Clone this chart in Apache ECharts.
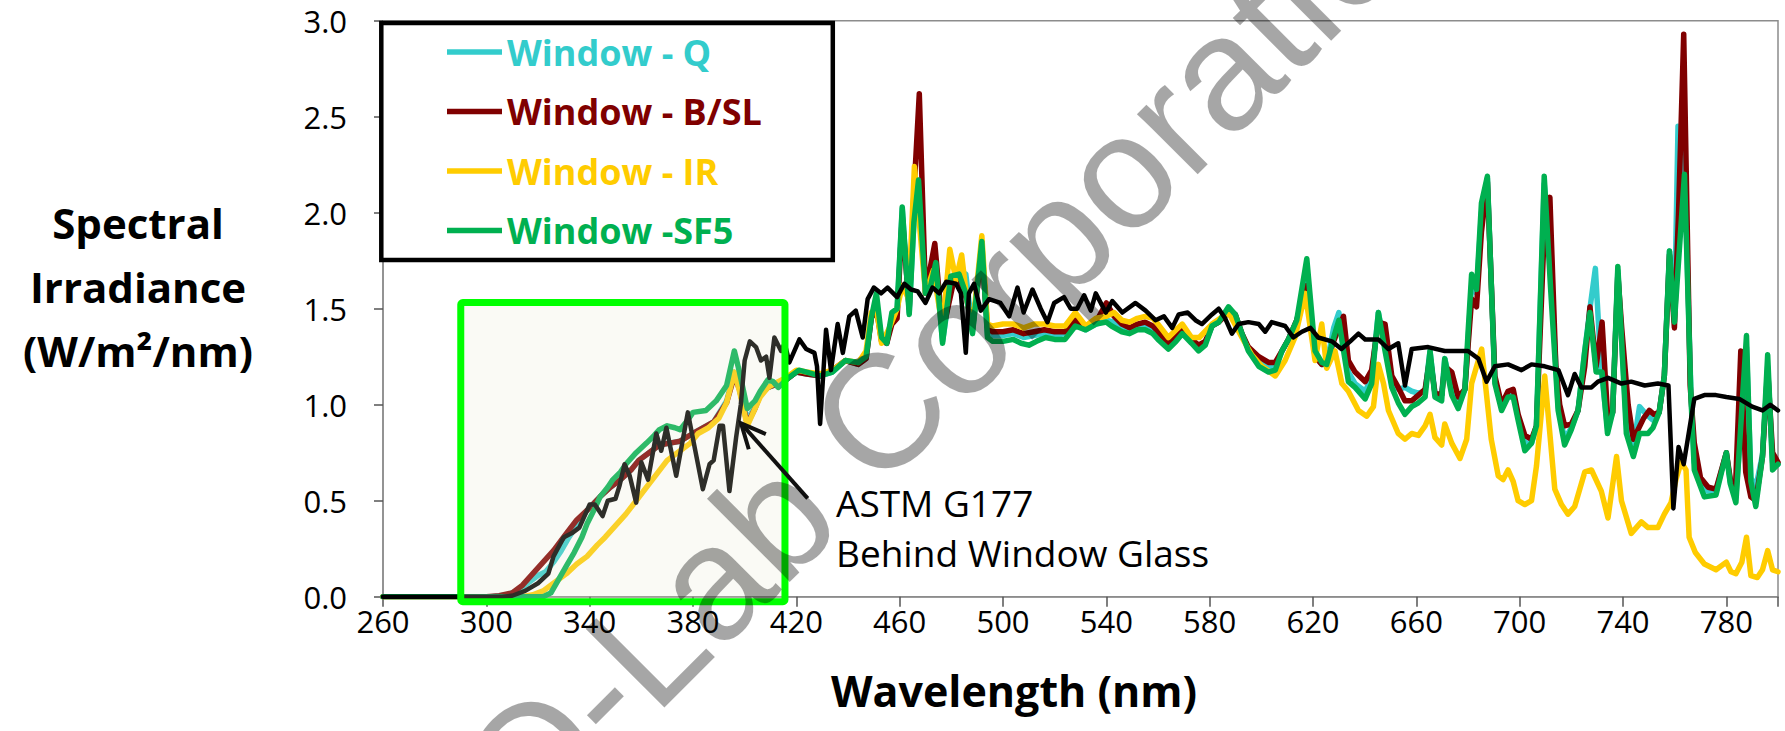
<!DOCTYPE html>
<html><head><meta charset="utf-8">
<script src="https://cdn.jsdelivr.net/npm/echarts/dist/echarts.min.js"></script>
<style>html,body{margin:0;padding:0;background:#fff;}#c{width:1785px;height:731px;}</style>
</head><body><div id="c"></div>
<script>
// ---- data: [wavelength nm, spectral irradiance W/m2/nm] ----
const xTicks = [260, 800, 40];
const yTicks = [0, 3, 0.5];
const seriesNames = ['Window - Q', 'Window - B/SL', 'Window - IR', 'Window -SF5', 'ASTM G177 Behind Window Glass'];
const seriesColors = ['#33CCCC', '#800000', '#FFCC00', '#00B050', '#000000'];

const Q = [[260,0],[302,0],[308,0.01],[312,0.03],[316,0.07],[320,0.11],[323,0.13],[326,0.18],[329,0.24],[332,0.31],[336,0.39],[339,0.45],[344,0.52],[348,0.57],[352,0.61],[356,0.66],[359,0.71],[363,0.75],[367,0.79],[371,0.80],[375,0.81],[380,0.85],[384,0.88],[388,0.91],[393,1.02],[396,1.17],[398,1.09],[401,0.92],[404,0.99],[406,1.05],[409,1.09],[413,1.11],[416,1.13],[420,1.17],[424,1.16],[429,1.15],[434,1.17],[439,1.23],[444,1.21],[447,1.24],[449,1.45],[451,1.52],[453,1.34],[455,1.32],[457,1.45],[459,1.48],[461,2.02],[463.7,1.48],[465.5,1.95],[467.3,2.12],[470,1.58],[472,1.62],[474,1.72],[476.6,1.33],[479.8,1.62],[483,1.66],[485.6,1.68],[488.2,1.38],[491.8,1.84],[494,1.36],[496,1.36],[500,1.36],[504,1.37],[508,1.35],[512,1.36],[516,1.37],[520,1.36],[524,1.37],[528,1.42],[532,1.39],[536,1.42],[540,1.44],[543,1.43],[546,1.40],[549,1.38],[552,1.40],[555,1.41],[558,1.39],[560,1.36],[564,1.31],[567,1.35],[569.4,1.39],[573,1.33],[575.7,1.30],[578.3,1.32],[580.9,1.41],[583.5,1.43],[587.3,1.50],[589.9,1.47],[592.5,1.37],[595,1.29],[599,1.23],[602.8,1.19],[605.4,1.20],[608,1.28],[610.5,1.34],[613.7,1.44],[617.6,1.64],[620.8,1.26],[623.4,1.21],[625.3,1.21],[628,1.40],[630,1.48],[633.7,1.17],[636.3,1.11],[640.2,1.07],[642.7,1.14],[645.3,1.48],[647.9,1.30],[650.5,1.12],[653,1.08],[655.6,1.09],[658.2,1.07],[660.8,1.06],[663.4,1.07],[665.3,1.28],[667.2,1.06],[669.8,1.05],[671,1.24],[673.7,1.08],[676.2,1.00],[678.8,1.08],[680,1.33],[681.4,1.62],[683.3,1.58],[685.2,2.00],[687.5,2.18],[690.4,1.13],[693,0.99],[695.5,1.05],[697.5,1.06],[699.4,0.94],[702,0.80],[704.6,0.80],[706.5,0.89],[709.5,2.15],[712,1.70],[714.9,0.99],[717.4,0.82],[720,0.88],[722.6,0.97],[725.2,1.28],[727.2,1.50],[729.3,1.71],[731.5,1.19],[734,0.88],[736,0.96],[738,1.70],[741.3,0.90],[744,0.78],[746.4,0.99],[749,0.95],[751.6,0.92],[754,0.96],[756,1.15],[758,1.80],[759.9,1.43],[761.3,2.45],[763.8,2.25],[766.3,1.06],[767.6,0.70],[771.5,0.55],[776,0.55],[780,0.75],[781.5,0.60],[783.7,0.52],[786,0.95],[787.8,1.30],[789.5,0.62],[791.4,0.57],[794,0.74],[796,1.20],[797.9,0.70],[800,0.69]];

const BSL = [[260,0],[300,0],[305,0.005],[310,0.02],[314,0.06],[318,0.12],[322,0.18],[326,0.24],[331,0.33],[335,0.40],[339,0.45],[344,0.52],[348,0.57],[352,0.61],[356,0.66],[359,0.71],[363,0.75],[367,0.79],[371,0.80],[375,0.81],[380,0.85],[384,0.88],[388,0.91],[393,1.01],[396,1.15],[398,1.08],[401,0.90],[404,0.98],[406,1.05],[409,1.09],[413,1.11],[416,1.13],[420,1.17],[424,1.16],[429,1.15],[434,1.18],[439,1.23],[444,1.21],[447,1.24],[449,1.45],[451,1.50],[453,1.33],[455,1.32],[457,1.42],[459,1.45],[461,1.98],[463.7,1.50],[465.5,2.10],[467.6,2.62],[470,1.58],[473.6,1.84],[476.6,1.38],[479.4,1.55],[481.8,1.70],[484,1.62],[486,1.55],[488.2,1.40],[491.8,1.80],[494,1.40],[496,1.38],[500,1.38],[504,1.39],[508,1.37],[512,1.38],[516,1.39],[520,1.38],[524,1.38],[528,1.44],[532,1.40],[536,1.43],[540,1.53],[543,1.46],[546,1.42],[549,1.40],[552,1.42],[555,1.43],[558,1.41],[560,1.38],[564,1.32],[567,1.36],[569.4,1.40],[573,1.34],[575.7,1.31],[578.3,1.33],[580.9,1.41],[583.5,1.43],[587.3,1.48],[589.9,1.47],[592.5,1.37],[595,1.30],[599,1.25],[602.8,1.22],[605.4,1.22],[608,1.28],[610.5,1.34],[613.7,1.44],[617.6,1.62],[620.8,1.25],[623.4,1.21],[625.3,1.22],[628,1.33],[631.8,1.46],[633.7,1.23],[636.3,1.17],[640.2,1.12],[642.7,1.18],[645.3,1.43],[647.9,1.42],[650.5,1.15],[653,1.09],[655.6,1.02],[658.2,1.02],[660.8,1.05],[663.4,1.08],[665.3,1.25],[667.2,1.06],[669.8,1.05],[671,1.20],[673.7,1.17],[676.2,1.04],[678.8,1.08],[680,1.30],[681.4,1.55],[683.3,1.51],[685.2,1.90],[687.5,2.16],[690.4,1.15],[693,1.00],[695.5,1.07],[697.5,1.08],[699.4,0.95],[702,0.84],[704.6,0.82],[706.5,0.89],[709.5,1.90],[711.7,2.08],[714,1.20],[715.5,1.00],[717.4,0.89],[720,0.90],[722.6,0.97],[725.2,1.20],[727.2,1.51],[729.6,1.20],[731.9,1.43],[734,0.95],[736,0.96],[738,1.68],[739.5,1.40],[742,1.00],[744,0.82],[748,0.93],[750.2,0.97],[752,0.95],[754,0.96],[756,1.15],[758,1.78],[759.9,1.40],[761.5,2.00],[763.5,2.93],[766,1.10],[767.6,0.80],[770,0.62],[773,0.57],[776,0.56],[780,0.75],[781.8,0.59],[783.5,0.55],[785.6,1.28],[787.5,0.65],[789.5,0.52],[791.4,0.50],[794,0.73],[796,1.18],[797.9,0.75],[800,0.70]];

const IR = [[260,0],[314,0],[318,0.01],[322,0.03],[326,0.07],[331,0.12],[335,0.17],[339,0.21],[343,0.27],[346,0.31],[350,0.37],[354,0.43],[358,0.50],[362,0.57],[366,0.64],[370,0.71],[375,0.76],[379,0.80],[382,0.85],[386,0.88],[390,0.93],[393,1.01],[396,1.17],[398,1.07],[401,0.89],[404,0.98],[406,1.04],[409,1.09],[413,1.12],[416,1.14],[420,1.18],[424,1.17],[429,1.16],[434,1.18],[439,1.23],[444,1.22],[447,1.28],[449,1.48],[451,1.50],[453,1.32],[456,1.40],[459,1.50],[461,1.62],[463.5,1.55],[465.7,2.24],[467.6,1.95],[470,1.58],[473,1.70],[476.6,1.40],[479.4,1.81],[481.8,1.65],[484,1.78],[486,1.55],[488.2,1.40],[491.8,1.88],[494,1.42],[496,1.41],[500,1.42],[504,1.42],[508,1.40],[512,1.42],[516,1.42],[520,1.41],[524,1.41],[528,1.48],[532,1.41],[536,1.45],[540,1.46],[543,1.48],[546,1.44],[549,1.43],[552,1.45],[555,1.46],[558,1.45],[560,1.42],[564,1.35],[567,1.39],[569.4,1.42],[573,1.35],[576,1.35],[580.9,1.42],[587.3,1.48],[592.5,1.35],[596.3,1.26],[600.2,1.20],[605.4,1.15],[609.2,1.23],[613,1.35],[617,1.58],[620.8,1.23],[623.4,1.42],[625.3,1.19],[628.5,1.28],[631.2,1.11],[633.7,1.07],[637.6,0.97],[640.8,0.94],[643.4,0.99],[645.3,1.21],[647.3,1.11],[649.2,0.97],[653,0.85],[655.6,0.82],[658.2,0.85],[660.8,0.84],[663.4,0.89],[665.3,0.95],[667.2,0.83],[669.8,0.79],[671,0.90],[673.7,0.80],[676.9,0.72],[679.5,0.82],[681.4,1.11],[685.3,1.29],[689,0.82],[691.7,0.63],[693.6,0.61],[695.5,0.66],[697.5,0.60],[699.4,0.50],[702,0.48],[704.6,0.50],[706.5,0.68],[709.7,1.15],[713.6,0.56],[716.2,0.48],[718.7,0.43],[721.3,0.47],[725.2,0.65],[727.8,0.66],[731.6,0.55],[734.2,0.41],[737.5,0.73],[739.4,0.50],[743.2,0.33],[747.1,0.39],[749.7,0.36],[753.5,0.36],[756,0.43],[758.6,0.49],[760.5,0.61],[762.5,0.70],[764.4,0.66],[765.6,0.31],[768,0.23],[771.5,0.17],[776,0.14],[780,0.18],[781.8,0.13],[783.7,0.12],[786,0.18],[787.8,0.31],[789.5,0.11],[792,0.10],[794,0.14],[796,0.24],[797.9,0.14],[800,0.13]];

const SF5 = [[260,0],[322,0],[325,0.02],[328,0.09],[331,0.16],[334,0.23],[337,0.31],[339,0.38],[342,0.46],[344,0.52],[347,0.57],[349,0.61],[352,0.65],[354,0.69],[358,0.75],[362,0.80],[365,0.84],[367,0.87],[370,0.89],[373,0.88],[375,0.87],[378,0.92],[380,0.96],[385,0.97],[389,1.02],[393,1.10],[396,1.28],[398,1.17],[401,0.98],[404,1.02],[406,1.07],[409,1.13],[411,1.12],[413,1.09],[417,1.14],[421,1.18],[424,1.17],[429,1.15],[434,1.17],[439,1.23],[444,1.22],[447,1.25],[449,1.45],[451,1.58],[453,1.35],[455,1.32],[457,1.48],[459,1.50],[461,2.03],[463.7,1.47],[465.5,1.95],[467.3,2.17],[470,1.58],[472,1.62],[474,1.74],[476.6,1.32],[479.8,1.67],[483,1.68],[485.6,1.58],[488.2,1.37],[491.8,1.85],[494,1.35],[496,1.33],[500,1.33],[504,1.34],[507,1.32],[510,1.31],[513,1.33],[516.5,1.35],[520,1.34],[524,1.34],[528,1.41],[532,1.39],[536,1.42],[540,1.43],[542,1.41],[546,1.38],[549,1.37],[552,1.39],[555,1.39],[558,1.37],[560,1.34],[564,1.29],[567,1.33],[569.4,1.37],[573,1.32],[575.7,1.28],[578.3,1.31],[580.9,1.41],[583.5,1.43],[587.3,1.51],[589.9,1.47],[592.5,1.37],[595,1.28],[599,1.20],[602.8,1.17],[605.4,1.18],[608,1.28],[610.5,1.34],[613.7,1.44],[617.6,1.76],[620.8,1.28],[623.4,1.22],[625.3,1.21],[628,1.35],[630,1.44],[633.7,1.12],[636.3,1.09],[640.2,1.03],[642.7,1.11],[645.3,1.48],[647.9,1.28],[650.5,1.09],[653,1.01],[655.6,0.95],[658.2,0.99],[660.8,1.01],[663.4,1.04],[665.3,1.28],[667.2,1.04],[669.8,1.02],[671,1.24],[673.7,1.05],[676.2,0.98],[678.8,1.08],[680,1.37],[681.4,1.68],[683.3,1.60],[685.2,2.05],[687.5,2.19],[690.4,1.11],[693,0.97],[695.5,1.04],[697.5,1.04],[699.4,0.92],[702,0.76],[704.6,0.80],[706.5,0.89],[709.5,2.19],[712,1.60],[714.9,0.97],[717.4,0.79],[720,0.87],[722.6,0.97],[725.2,1.28],[727.2,1.48],[729.6,1.17],[731.9,1.17],[734,0.85],[736,0.96],[738,1.72],[741.3,0.85],[744,0.73],[746.4,0.85],[749.7,0.85],[751.6,0.88],[754,0.96],[756,1.15],[758,1.80],[759.9,1.43],[763.8,2.20],[766.3,1.04],[767.6,0.66],[771.5,0.52],[776,0.53],[780,0.75],[781.5,0.59],[783.7,0.49],[787.8,1.36],[789.5,0.60],[791.4,0.47],[794,0.73],[796,1.26],[797.9,0.66],[800,0.69]];

const ASTM = [[260,0],[306,0],[310,0.005],[315,0.03],[320,0.07],[324,0.12],[326,0.21],[330,0.31],[333,0.33],[336,0.36],[340,0.48],[342,0.48],[345,0.42],[347,0.50],[350,0.51],[351.6,0.58],[353.5,0.69],[355.5,0.63],[358,0.49],[360,0.70],[362.6,0.61],[365.8,0.85],[367.7,0.76],[369.7,0.88],[373.5,0.63],[378,0.96],[383.8,0.56],[386.4,0.69],[388,0.71],[390.3,0.89],[391.6,0.89],[394.1,0.55],[396.7,0.83],[398.5,1.00],[400,1.23],[402,1.33],[404.4,1.30],[406.3,1.23],[408.3,1.25],[409.6,1.14],[411.5,1.35],[414.1,1.28],[415.5,1.32],[417.3,1.22],[421.2,1.34],[423.8,1.29],[427,1.27],[428,1.20],[429.2,0.90],[431.5,1.39],[433.4,1.18],[436,1.42],[438,1.27],[440.5,1.46],[443,1.49],[445.7,1.35],[447.6,1.55],[450,1.61],[452.8,1.58],[455.3,1.61],[459,1.56],[461.8,1.63],[464.4,1.60],[467,1.59],[470,1.53],[472.7,1.61],[475.3,1.58],[478,1.64],[481.8,1.63],[483.7,1.58],[485.6,1.27],[486.8,1.58],[488.8,1.63],[491.4,1.49],[494.6,1.55],[499,1.53],[502.4,1.46],[505.6,1.61],[508,1.48],[511.4,1.60],[514.6,1.50],[517.2,1.43],[519.8,1.53],[523.6,1.56],[526.2,1.50],[528.7,1.50],[531.4,1.57],[534,1.49],[535.9,1.58],[539.8,1.48],[542.3,1.54],[546.2,1.48],[551.3,1.53],[555.2,1.49],[559,1.44],[562.3,1.46],[565.5,1.40],[568,1.47],[571.5,1.48],[574.5,1.44],[577,1.42],[580.9,1.47],[583.5,1.50],[586,1.45],[588.6,1.37],[591.2,1.42],[595,1.43],[599,1.42],[601.5,1.38],[604,1.43],[609.2,1.41],[612.4,1.35],[615.7,1.38],[619,1.40],[622,1.35],[627.3,1.33],[631,1.29],[634.4,1.33],[637.6,1.37],[640.2,1.34],[645.3,1.34],[649.2,1.29],[653,1.32],[655.6,1.10],[658.2,1.29],[664.6,1.30],[671,1.28],[675,1.28],[680,1.28],[684,1.24],[687.2,1.12],[690.4,1.20],[695.5,1.21],[700.7,1.18],[704.6,1.21],[709.7,1.20],[715,1.18],[718.7,1.05],[721.3,1.16],[723.9,1.09],[727.8,1.09],[730.3,1.12],[734.2,1.14],[739.4,1.11],[743.2,1.12],[748.4,1.10],[753.5,1.11],[757.6,1.10],[759.5,0.46],[761.5,0.78],[763.5,0.69],[767.6,1.03],[771.5,1.05],[776,1.05],[780,1.04],[785,1.03],[790,0.99],[794,0.97],[797,1.00],[800,0.97]];

const seriesData = [Q, BSL, IR, SF5, ASTM];

// annotation anchors in data space
const boxCorners = [[290.1, 1.532], [415.6, -0.026]];
const arrowTipTail = [[398.6, 0.903], [424.4, 0.512]];

const FONT = '"Open Sans", "Noto Sans", sans-serif';
const AX = '#8c8c8c';

const chart = echarts.init(document.getElementById('c'), null, {renderer: 'svg'});

const option = {
  animation: false,
  backgroundColor: '#ffffff',
  grid: {left: 383, right: 7, top: 20.7, bottom: 134.3, show: true, borderColor: AX, borderWidth: 1.5, backgroundColor: 'transparent'},
  xAxis: {
    type: 'value', min: xTicks[0], max: xTicks[1], interval: xTicks[2],
    axisLine: {show: true, lineStyle: {color: AX, width: 1.5}},
    axisTick: {show: true, inside: false, length: 10, lineStyle: {color: '#555', width: 1.5}},
    splitLine: {show: false},
    axisLabel: {fontFamily: FONT, fontSize: 31, color: '#000', margin: 9, lineHeight: 30,
      formatter: v => (v < 800 ? String(v) : '')}
  },
  yAxis: {
    type: 'value', min: yTicks[0], max: yTicks[1], interval: yTicks[2],
    axisLine: {show: true, lineStyle: {color: AX, width: 1.5}},
    axisTick: {show: true, inside: false, length: 9, lineStyle: {color: '#555', width: 1.5}},
    splitLine: {show: false},
    axisLabel: {fontFamily: FONT, fontSize: 31, color: '#000', margin: 36, formatter: v => v.toFixed(1)}
  },
  legend: {
    orient: 'vertical', left: 447, top: 32, padding: 0,
    icon: 'rect', itemWidth: 55, itemHeight: 5.5, itemGap: 19.5,
    selectedMode: false,
    textStyle: {fontFamily: FONT, fontWeight: 'bold', fontSize: 36, lineHeight: 40},
    data: seriesNames.slice(0, 4).map((n, i) => ({name: n, textStyle: {color: seriesColors[i]}}))
  },
  series: seriesData.map((d, i) => ({
    name: seriesNames[i], type: 'line', data: d, showSymbol: false, symbol: 'none',
    lineStyle: {color: seriesColors[i], width: i === 4 ? 4.5 : 5.5, join: 'round', cap: 'round'},
    itemStyle: {color: seriesColors[i]},
    z: 2 + i * 0.01
  }))
};
chart.setOption(option);

// ---- overlay graphics (positions derived from data coordinates) ----
const px = p => chart.convertToPixel({gridIndex: 0}, p);
const b1 = px(boxCorners[0]), b2 = px(boxCorners[1]);
const tip = px(arrowTipTail[0]), tail = px(arrowTipTail[1]);
const ang = Math.atan2(tail[1] - tip[1], tail[0] - tip[0]);
const wl = 27, wa = 25 * Math.PI / 180;
const w1 = [tip[0] + wl * Math.cos(ang - wa), tip[1] + wl * Math.sin(ang - wa)];
const w2 = [tip[0] + wl * Math.cos(ang + wa), tip[1] + wl * Math.sin(ang + wa)];

chart.setOption({
  graphic: [
    // legend frame
    {type: 'rect', z: 1, shape: {x: 381.3, y: 23, width: 451.5, height: 237},
      style: {fill: '#fff', stroke: '#000', lineWidth: 4.5}},
    // highlighted UV region
    {type: 'rect', z: 50, shape: {x: b1[0], y: b1[1], width: b2[0] - b1[0], height: b2[1] - b1[1], r: 2},
      style: {fill: 'rgba(228,228,205,0.2)', stroke: '#00FF00', lineWidth: 7}},
    // arrow
    {type: 'polyline', z: 60, shape: {points: [tail, tip]}, style: {stroke: '#111', lineWidth: 4, fill: null}},
    {type: 'polyline', z: 60, shape: {points: [w1, tip, w2]}, style: {stroke: '#111', lineWidth: 4, fill: null, lineJoin: 'miter'}},
    // annotation text
    {type: 'text', z: 60, x: 836, y: 502, style: {text: 'ASTM G177', font: '37px ' + FONT, fill: '#000', textAlign: 'left', textVerticalAlign: 'middle'}},
    {type: 'text', z: 60, x: 836, y: 552, style: {text: 'Behind Window Glass', font: '37px ' + FONT, fill: '#000', textAlign: 'left', textVerticalAlign: 'middle'}},
    // axis titles
    {type: 'text', z: 60, x: 138, y: 286, style: {text: 'Spectral\nIrradiance\n(W/m²/nm)', font: 'bold 42px ' + FONT, lineHeight: 64, fill: '#000', textAlign: 'center', textVerticalAlign: 'middle'}},
    {type: 'text', z: 60, x: 1014, y: 690, style: {text: 'Wavelength (nm)', font: 'bold 43px ' + FONT, fill: '#000', textAlign: 'center', textVerticalAlign: 'middle'}},
    // watermark
    {type: 'text', z: 100, x: 962, y: 330, rotation: 45 * Math.PI / 180,
      style: {text: 'Q-Lab Corporation', font: '162px "Liberation Sans", Arial, sans-serif', fill: 'rgba(0,0,0,0.35)', textAlign: 'center', textVerticalAlign: 'middle'}}
  ]
});
</script>
</body></html>
